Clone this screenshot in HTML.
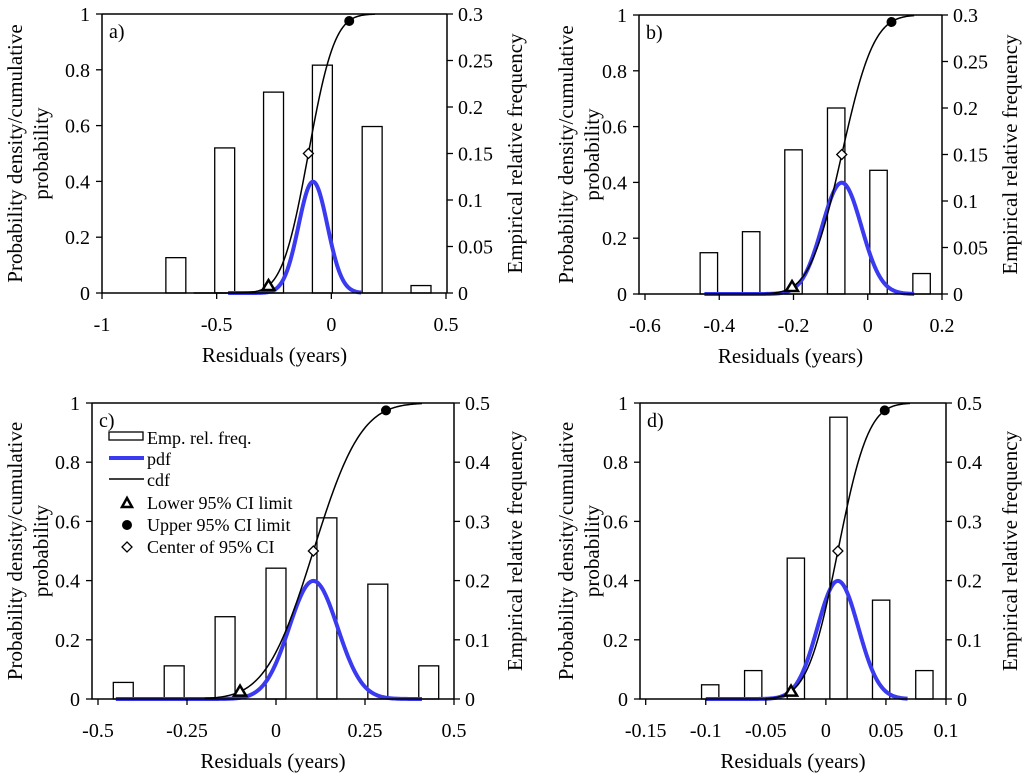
<!DOCTYPE html>
<html><head><meta charset="utf-8"><style>
body{margin:0;background:#fff;}
svg{display:block;}
svg text{font-family:"Liberation Serif","Times New Roman",serif;}
</style></head><body>
<svg id="chart" width="1024" height="779" viewBox="0 0 1024 779" font-family="Liberation Serif, serif" xmlns="http://www.w3.org/2000/svg"></svg>
<script>
// Panel a
const aBinCenters=[-0.678,-0.465,-0.252,-0.039,0.178,0.391];
const aFreq=[0.038,0.156,0.216,0.245,0.179,0.008];
const aPdfParams=[-0.08,0.063]; const aCdfParams=[-0.1,0.09];
const aCI=[-0.274,-0.1,0.078];
const aXTicks=[-1,-0.5,0,0.5]; const aRTicks=[0,0.05,0.1,0.15,0.2,0.25,0.3];
// Panel b
const bBinCenters=[-0.428,-0.314,-0.2,-0.085,0.029,0.145];
const bFreq=[0.0444,0.067,0.155,0.2,0.133,0.022];
const bPdfParams=[-0.07,0.053]; const bCdfParams=[-0.07,0.068];
const bCI=[-0.204,-0.07,0.064];
const bXTicks=[-0.6,-0.4,-0.2,0,0.2]; const bRTicks=[0,0.05,0.1,0.15,0.2,0.25,0.3];
// Panel c
const cBinCenters=[-0.429,-0.286,-0.143,0,0.143,0.286,0.429];
const cFreq=[0.028,0.056,0.139,0.221,0.306,0.194,0.056];
const cPdfParams=[0.105,0.068]; const cCdfParams=[0.105,0.105];
const cCI=[-0.101,0.105,0.309];
const cXTicks=[-0.5,-0.25,0,0.25,0.5]; const cRTicks=[0,0.1,0.2,0.3,0.4,0.5];
// Panel d
const dBinCenters=[-0.0963,-0.0605,-0.025,0.0105,0.046,0.082];
const dFreq=[0.024,0.048,0.238,0.476,0.167,0.048];
const dPdfParams=[0.01,0.017]; const dCdfParams=[0.01,0.02];
const dCI=[-0.029,0.01,0.049];
const dXTicks=[-0.15,-0.1,-0.05,0,0.05,0.1]; const dRTicks=[0,0.1,0.2,0.3,0.4,0.5];
const leftTicks=[0,0.2,0.4,0.6,0.8,1];

const NS="http://www.w3.org/2000/svg";
const svg=document.getElementById('chart');
function mk(tag,attrs,parent,text){const e=document.createElementNS(NS,tag);for(const k in attrs)e.setAttribute(k,attrs[k]);if(tag==='text')e.setAttribute('font-family','Liberation Serif, Times New Roman, serif');if(text!==undefined)e.textContent=text;(parent||svg).appendChild(e);return e;}
function erf(x){const s=Math.sign(x);x=Math.abs(x);const t=1/(1+0.3275911*x);const y=1-(((((1.061405429*t-1.453152027)*t)+1.421413741)*t-0.284496736)*t+0.254829592)*t*Math.exp(-x*x);return s*y;}
function npdf(z){return Math.exp(-z*z/2)/Math.sqrt(2*Math.PI);}
function ncdf(z){return 0.5*(1+erf(z/Math.SQRT2));}

function panel(p){
  const g=mk('g',{});
  
  
  const X=v=>p.x0+(v-p.xmin)/(p.xmax-p.xmin)*(p.x1-p.x0);
  const YL=v=>p.yb-v*(p.yb-p.yt);
  const YR=v=>p.yb-v/p.rmax*(p.yb-p.yt);
  p.centers.forEach((c,i)=>{
    const r=mk('rect',{x:X(c-p.bw/2),y:YR(p.freq[i]),width:X(c+p.bw/2)-X(c-p.bw/2),height:YR(0)-YR(p.freq[i]),fill:'#fff',stroke:'#000','stroke-width':1.3},g);
    
    
  });
  let d='';
  for(let i=0;i<=200;i++){const v=p.pdfR[0]+(p.pdfR[1]-p.pdfR[0])*i/200;d+=(i?'L':'M')+X(v).toFixed(2)+','+YL(npdf((v-p.pdf[0])/p.pdf[1])).toFixed(2);}
  const pl=mk('path',{d:d,fill:'none',stroke:'#3a3af0','stroke-width':4},g);
  
  
  d='';
  for(let i=0;i<=200;i++){const v=p.cdfR[0]+(p.cdfR[1]-p.cdfR[0])*i/200;d+=(i?'L':'M')+X(v).toFixed(2)+','+YL(ncdf((v-p.cdf[0])/p.cdf[1])).toFixed(2);}
  const cl=mk('path',{d:d,fill:'none',stroke:'#000','stroke-width':1.5},g);
  
  
  const tx=X(p.ci[0]),ty=YL(0.025);
  const tri=mk('path',{d:`M${tx},${ty-6}L${tx+6},${ty+4}L${tx-6},${ty+4}Z`,fill:'#fff',stroke:'#000','stroke-width':2.5},g);
  
  
  const dx=X(p.ci[1]),dy=YL(0.5);
  const dia=mk('path',{d:`M${dx},${dy-5}L${dx+5},${dy}L${dx},${dy+5}L${dx-5},${dy}Z`,fill:'#fff',stroke:'#000','stroke-width':1.3},g);
  
  
  const dot=mk('circle',{cx:X(p.ci[2]),cy:YL(0.975),r:5,fill:'#000'},g);
  
  
  const fr=mk('path',{d:`M${p.lx},${p.yt}H${p.rx}M${p.lx},${p.yt}V${p.yb}H${p.rx}M${p.rx},${p.yt}V${p.yb}`,fill:'none',stroke:'#000','stroke-width':1.5},g);
  
  
  leftTicks.forEach(v=>{
    mk('line',{x1:p.lx-6,x2:p.lx,y1:YL(v),y2:YL(v),stroke:'#000','stroke-width':1.3},g);
    const t=mk('text',{x:p.lx-12,y:YL(v)+7,'text-anchor':'end','font-size':20},g,String(v));
    
    
  });
  p.rt.forEach(v=>{
    mk('line',{x1:p.rx,x2:p.rx+6,y1:YR(v),y2:YR(v),stroke:'#000','stroke-width':1.3},g);
    const t=mk('text',{x:p.rx+11,y:YR(v)+7,'font-size':20},g,String(v));
    
    
  });
  p.xt.forEach(v=>{
    mk('line',{x1:X(v),x2:X(v),y1:p.yb,y2:p.yb+6,stroke:'#000','stroke-width':1.3},g);
    const t=mk('text',{x:X(v),y:p.yb+38,'text-anchor':'middle','font-size':20},g,String(v));
    
    
  });
  const xl=mk('text',{x:(p.lx+p.rx)/2,y:p.yb+69,'text-anchor':'middle','font-size':21},g,'Residuals (years)');
  
  
  const cy=(p.yt+p.yb)/2;
  const yl=mk('text',{transform:`translate(${p.t1},${cy}) rotate(-90)`,'text-anchor':'middle','font-size':21},g,'Probability density/cumulative');
  
  
  mk('text',{transform:`translate(${p.t1+26},${cy}) rotate(-90)`,'text-anchor':'middle','font-size':21},g,'probability');
  const yr=mk('text',{transform:`translate(${p.t2},${cy}) rotate(-90)`,'text-anchor':'middle','font-size':21},g,'Empirical relative frequency');
  
  
  const lab=mk('text',{x:p.lx+7,y:p.yt+24,'font-size':20},g,p.id+')');
  
  
}
panel({id:'a',x0:102,x1:446,xmin:-1,xmax:0.5,lx:102,rx:447,yt:14,yb:293,rmax:0.3,t1:22,t2:522,centers:aBinCenters,freq:aFreq,bw:0.087,pdf:aPdfParams,pdfR:[-0.45,0.13],cdf:aCdfParams,cdfR:[-0.6,0.19],ci:aCI,xt:aXTicks,rt:aRTicks});
panel({id:'b',x0:645,x1:942,xmin:-0.6,xmax:0.2,lx:639,rx:942,yt:15,yb:294,rmax:0.3,t1:573,t2:1017,centers:bBinCenters,freq:bFreq,bw:0.047,pdf:bPdfParams,pdfR:[-0.44,0.125],cdf:bCdfParams,cdfR:[-0.28,0.125],ci:bCI,xt:bXTicks,rt:bRTicks});
panel({id:'c',x0:98,x1:454,xmin:-0.5,xmax:0.5,lx:92,rx:454,yt:403,yb:699,rmax:0.5,t1:22,t2:522,centers:cBinCenters,freq:cFreq,bw:0.056,pdf:cPdfParams,pdfR:[-0.45,0.41],cdf:cCdfParams,cdfR:[-0.2,0.41],ci:cCI,xt:cXTicks,rt:cRTicks});
panel({id:'d',x0:645.7,x1:946,xmin:-0.15,xmax:0.1,lx:640,rx:946,yt:403,yb:699,rmax:0.5,t1:573,t2:1017,centers:dBinCenters,freq:dFreq,bw:0.0144,pdf:dPdfParams,pdfR:[-0.1,0.068],cdf:dCdfParams,cdfR:[-0.05,0.07],ci:dCI,xt:dXTicks,rt:dRTicks});

const lg=mk('g',{});


mk('rect',{x:109,y:432,width:34,height:8,fill:'#fff',stroke:'#000','stroke-width':1.3},lg);
mk('text',{x:147,y:444,'font-size':18},lg,'Emp. rel. freq.');
mk('line',{x1:109,x2:144,y1:458,y2:458,stroke:'#3a3af0','stroke-width':4},lg);
mk('text',{x:147,y:465,'font-size':18},lg,'pdf');
mk('line',{x1:109,x2:144,y1:479,y2:479,stroke:'#000','stroke-width':1.5},lg);
mk('text',{x:147,y:486,'font-size':18},lg,'cdf');
mk('path',{d:'M127,498L132,507L122,507Z',fill:'#fff',stroke:'#000','stroke-width':2.5},lg);
mk('text',{x:147,y:509,'font-size':18},lg,'Lower 95% CI limit');
mk('circle',{cx:127,cy:525,r:5,fill:'#000'},lg);
mk('text',{x:147,y:531,'font-size':18},lg,'Upper 95% CI limit');
mk('path',{d:'M127,542L132,547L127,552L122,547Z',fill:'#fff',stroke:'#000','stroke-width':1.3},lg);
mk('text',{x:147,y:553,'font-size':18},lg,'Center of 95% CI');
</script>
</body></html>
